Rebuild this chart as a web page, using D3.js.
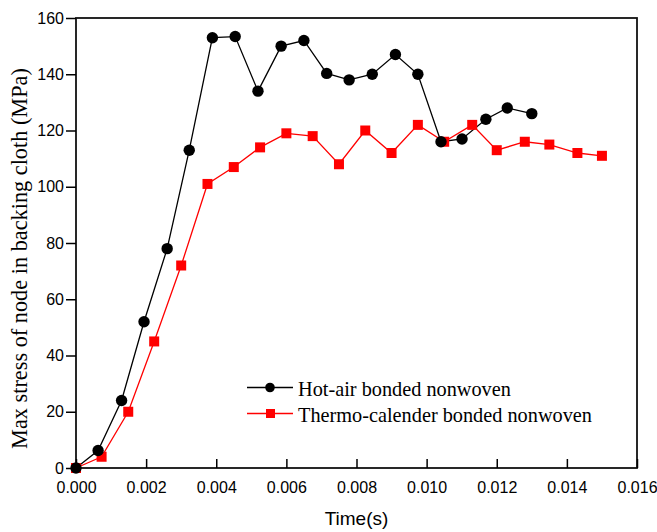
<!DOCTYPE html>
<html><head><meta charset="utf-8">
<script src="https://cdn.jsdelivr.net/npm/d3@7"></script>
<style>body{margin:0;background:#fff}svg{display:block}</style>
</head><body>
<svg id="c" width="657" height="532"></svg>
<script>
const hotTime = [0, 0.00063, 0.0013, 0.00194, 0.0026, 0.00323, 0.00389, 0.00454, 0.00519, 0.00585, 0.0065, 0.00715, 0.00779, 0.00845, 0.00911, 0.00975, 0.01041, 0.01101, 0.01169, 0.0123, 0.013];
const hotStress = [0, 6.2, 24, 52, 78, 113, 153, 153.4, 134, 150, 152, 140.3, 138, 140, 147, 140, 116, 117, 124, 128, 126];
const calTime = [0, 0.00073, 0.00149, 0.00223, 0.003, 0.00375, 0.0045, 0.00525, 0.006, 0.00675, 0.0075, 0.00825, 0.009, 0.00975, 0.0105, 0.0113, 0.012, 0.0128, 0.0135, 0.0143, 0.015];
const calStress = [0, 4, 20, 45, 72, 101, 107, 114, 119, 118, 108, 120, 112, 122, 116, 122, 113, 116, 115, 112, 111];
const xTicks = [0, 0.002, 0.004, 0.006, 0.008, 0.010, 0.012, 0.014, 0.016];
const yTicks = [0, 20, 40, 60, 80, 100, 120, 140, 160];
const seriesNames = ["Hot-air bonded nonwoven", "Thermo-calender bonded nonwoven"];
const seriesColors = ["#000000", "#ff0000"];

const svg = d3.select("#c");
const L = 76, R = 637, T = 18, B = 468;
const x = d3.scaleLinear().domain([0, 0.016]).range([L, R]);
const y = d3.scaleLinear().domain([0, 160]).range([B, T]);

// frame
svg.append("rect").attr("x", L).attr("y", T).attr("width", R - L).attr("height", B - T)
  .attr("fill", "none").attr("stroke", "#111").attr("stroke-width", 1.8);

// x axis (ticks inward)
const xa = svg.append("g").attr("transform", `translate(0,${B})`)
  .call(d3.axisBottom(x).tickValues(xTicks).tickFormat(d3.format(".3f")).tickSizeInner(-9).tickSizeOuter(0).tickPadding(13.5));
xa.select(".domain").remove();
xa.selectAll("line").attr("stroke", "#000").attr("stroke-width", 1.5);
xa.selectAll("text").attr("font-family", "Liberation Sans, Arial, sans-serif").attr("font-size", 16).attr("fill", "#000");

// y axis (ticks outward)
const ya = svg.append("g").attr("transform", `translate(${L},0)`)
  .call(d3.axisLeft(y).tickValues(yTicks).tickFormat(d3.format("d")).tickSizeInner(10).tickSizeOuter(0).tickPadding(2));
ya.select(".domain").remove();
ya.selectAll("line").attr("stroke", "#000").attr("stroke-width", 1.5);
ya.selectAll("text").attr("font-family", "Liberation Sans, Arial, sans-serif").attr("font-size", 16).attr("fill", "#000");

// axis titles
svg.append("text").attr("x", (L + R) / 2).attr("y", 525).attr("text-anchor", "middle")
  .attr("font-family", "Liberation Sans, Arial, sans-serif").attr("font-size", 19).text("Time(s)");
svg.append("text").attr("transform", `translate(27,258.5) rotate(-90)`).attr("text-anchor", "middle")
  .attr("font-family", "Liberation Serif, Times New Roman, serif").attr("font-size", 22.3).text("Max stress of node in backing cloth (MPa)");

const line = d3.line().x(d => x(d[0])).y(d => y(d[1]));
const hot = hotTime.map((t, i) => [t, hotStress[i]]);
const cal = calTime.map((t, i) => [t, calStress[i]]);

// red series
svg.append("path").datum(cal).attr("d", line).attr("fill", "none").attr("stroke", seriesColors[1]).attr("stroke-width", 1.3);
// black series
svg.append("path").datum(hot).attr("d", line).attr("fill", "none").attr("stroke", seriesColors[0]).attr("stroke-width", 1.3);
svg.selectAll("rect.cal").data(cal).enter().append("rect").attr("class", "cal")
  .attr("x", d => x(d[0]) - 5).attr("y", d => y(d[1]) - 5).attr("width", 10).attr("height", 10).attr("fill", seriesColors[1]);
svg.selectAll("circle.hot").data(hot).enter().append("circle").attr("class", "hot")
  .attr("cx", d => x(d[0])).attr("cy", d => y(d[1])).attr("r", 5.7).attr("fill", seriesColors[0]);

// legend
const lg = svg.append("g");
const ly = [387.5, 413.5];
seriesNames.forEach((n, i) => {
  lg.append("line").attr("x1", 247).attr("x2", 293).attr("y1", ly[i]).attr("y2", ly[i]).attr("stroke", seriesColors[i]).attr("stroke-width", 1.3);
  if (i === 0) lg.append("circle").attr("cx", 270).attr("cy", ly[i]).attr("r", 4.8).attr("fill", seriesColors[i]);
  else lg.append("rect").attr("x", 266).attr("y", ly[i] - 4.5).attr("width", 9).attr("height", 9).attr("fill", seriesColors[i]);
  lg.append("text").attr("x", 298).attr("y", ly[i] + 8).attr("font-family", "Liberation Serif, Times New Roman, serif")
    .attr("font-size", 20.3).text(n);
});
</script>
</body></html>
